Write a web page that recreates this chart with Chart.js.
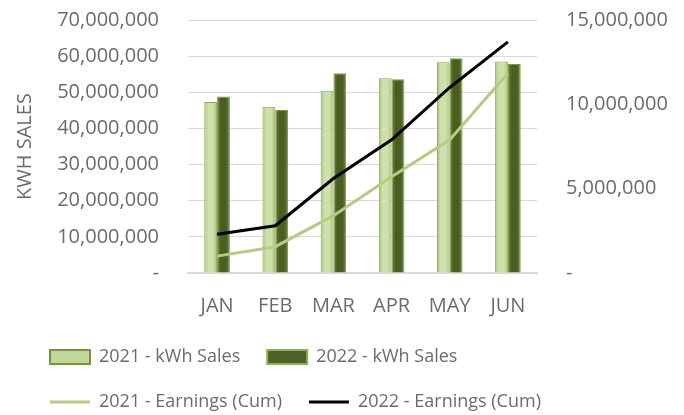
<!DOCTYPE html>
<html>
<head>
<meta charset="utf-8">
<script src="https://cdn.jsdelivr.net/npm/chart.js@4/dist/chart.umd.min.js"></script>
<style>
	html, body { margin: 0; padding: 0; background: #fff; overflow: hidden; }
	#wrap { width: 684px; height: 415px; }
</style>
</head>
<body>
<div id="wrap"><canvas id="chart1"></canvas></div>
<script>
var months = ['JAN', 'FEB', 'MAR', 'APR', 'MAY', 'JUN'];
var sales2021 = [47300000, 46000000, 50400000, 53900000, 58300000, 58500000];
var sales2022 = [48800000, 45100000, 55300000, 53600000, 59400000, 57800000];
var earnings2021 = [1000000, 1560000, 3400000, 5700000, 7900000, 11850000];
var earnings2022 = [2300000, 2800000, 5600000, 7900000, 11000000, 13700000];
var seriesNames = ['2021 - kWh Sales', '2022 - kWh Sales', '2021 - Earnings (Cum)', '2022 - Earnings (Cum)'];
var leftTicks = [0, 10000000, 70000000];
var rightTicks = [0, 5000000, 15000000];

var textColor = '#6b6b6b';
var fontName = "'Open Sans', 'Noto Sans', sans-serif";
var catPct = 0.44;

function numFormat(value) {
	if (value === 0) return '-';
	return Number(value).toLocaleString('en-US');
}

// horizontal shading on each bar, edges a bit different from the middle
function barFill(edge, mid) {
	return function(ctx) {
		var chart = ctx.chart;
		var xs = chart.scales.x;
		if (!xs || ctx.type !== 'data' || !isFinite(xs.width)) return mid;
		var half = (xs.width / months.length) * catPct / 2;
		var center = xs.getPixelForValue(ctx.dataIndex);
		var left = ctx.datasetIndex === 0 ? center - half : center;
		var g = chart.ctx.createLinearGradient(left, 0, left + half, 0);
		g.addColorStop(0, edge);
		g.addColorStop(0.3, mid);
		g.addColorStop(0.7, mid);
		g.addColorStop(1, edge);
		return g;
	};
}

var legendStyle = [
	{ fill: '#c3d69b', stroke: '#77933c', width: 2, point: 'rect' },
	{ fill: '#4f6228', stroke: '#8fb052', width: 2, point: 'rect' },
	{ fill: '#b3cc82', stroke: '#b3cc82', width: 3, point: 'line' },
	{ fill: '#000000', stroke: '#000000', width: 3, point: 'line' }
];

var ctx = document.getElementById('chart1');
var myChart = new Chart(ctx, {
	type: 'bar',
	data: {
		labels: months,
		datasets: [
			{
				type: 'bar',
				label: seriesNames[0],
				data: sales2021,
				yAxisID: 'y',
				order: 1,
				backgroundColor: barFill('#a6c173', '#cfe0ad'),
				borderColor: '#8aa94f',
				borderWidth: 1
			},
			{
				type: 'bar',
				label: seriesNames[1],
				data: sales2022,
				yAxisID: 'y',
				order: 1,
				backgroundColor: barFill('#6f8c3a', '#4a5e22'),
				borderColor: '#7c9a45',
				borderWidth: 1
			},
			{
				type: 'line',
				label: seriesNames[2],
				data: earnings2021,
				yAxisID: 'y1',
				order: 0,
				borderColor: '#b3cc82',
				borderWidth: 3,
				pointRadius: 0,
				tension: 0,
				fill: false
			},
			{
				type: 'line',
				label: seriesNames[3],
				data: earnings2022,
				yAxisID: 'y1',
				order: 0,
				borderColor: '#000000',
				borderWidth: 3,
				pointRadius: 0,
				tension: 0,
				fill: false
			}
		]
	},
	options: {
		responsive: true,
		maintainAspectRatio: false,
		animation: false,
		layout: {
			padding: { left: 23, right: 16, top: 20, bottom: -6 }
		},
		datasets: {
			bar: { categoryPercentage: catPct, barPercentage: 1 }
		},
		scales: {
			x: {
				grid: { display: false },
				border: { display: true, color: '#d9d9d9', width: 2 },
				ticks: {
					color: textColor,
					padding: 13,
					font: { family: fontName, size: 20 }
				},
				afterFit: function(scale) {
					scale.height = 48;
				}
			},
			y: {
				position: 'left',
				min: leftTicks[0],
				max: leftTicks[2],
				// tick marks kept invisible, they only push the labels away from the plot
				grid: { color: '#d9d9d9', lineWidth: 1, drawTicks: true, tickLength: 29, tickColor: 'rgba(0,0,0,0)' },
				border: { display: false },
				ticks: {
					stepSize: leftTicks[1],
					color: textColor,
					padding: 0,
					font: { family: fontName, size: 20 },
					callback: numFormat
				},
				title: {
					display: true,
					text: 'KWH SALES',
					color: textColor,
					padding: { top: -10, bottom: 0 },
					font: { family: fontName, size: 20 }
				},
				afterFit: function(scale) {
					scale.width = 165;
				}
			},
			y1: {
				position: 'right',
				min: rightTicks[0],
				max: rightTicks[2],
				grid: { drawOnChartArea: false, drawTicks: true, tickLength: 29, tickColor: 'rgba(0,0,0,0)' },
				border: { display: false },
				ticks: {
					stepSize: rightTicks[1],
					color: textColor,
					padding: 0,
					font: { family: fontName, size: 20 },
					callback: numFormat
				},
				afterFit: function(scale) {
					scale.width = 131;
				}
			}
		},
		plugins: {
			tooltip: { enabled: false },
			legend: {
				position: 'bottom',
				align: 'start',
				labels: {
					color: textColor,
					font: { family: fontName, size: 18 },
					padding: 27,
					boxHeight: 14,
					usePointStyle: true,
					pointStyleWidth: 40,
					generateLabels: function(chart) {
						return chart.data.datasets.map(function(ds, i) {
							var s = legendStyle[i];
							return {
								text: ds.label,
								datasetIndex: i,
								fillStyle: s.fill,
								strokeStyle: s.stroke,
								lineWidth: s.width,
								pointStyle: s.point,
								fontColor: textColor,
								hidden: false
							};
						});
					}
				}
			}
		}
	}
});
</script>
</body>
</html>
